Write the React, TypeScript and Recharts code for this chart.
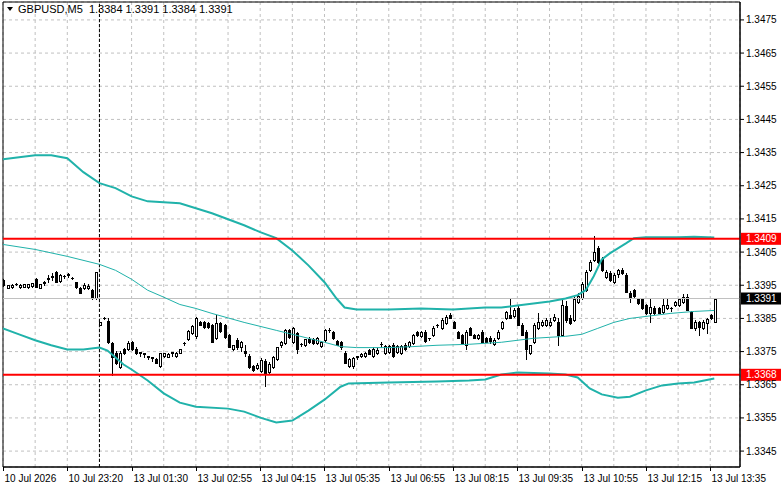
import React from 'react';
import { ComposedChart, Bar, Line, XAxis, YAxis, CartesianGrid, ReferenceLine, ReferenceArea } from 'recharts';

const FONT = '"Liberation Sans", Arial, sans-serif';

// GBPUSD M5 bars, index 0 = first bar of 10 Jul
const opens = [
  1.33965, 1.33941, 1.33944, 1.33953, 1.33944, 1.33944, 1.33944, 1.33947, 1.33968, 1.33941,
  1.33956, 1.33968, 1.33974, 1.33989, 1.33962, 1.33977, 1.33980, 1.33971, 1.33959, 1.33941,
  1.33941, 1.33941, 1.33935, 1.33913, 1.33829, 1.33850, 1.33841, 1.33775, 1.33747, 1.33705,
  1.33759, 1.33759, 1.33778, 1.33759, 1.33747, 1.33744, 1.33735, 1.33732, 1.33729, 1.33708,
  1.33738, 1.33735, 1.33747, 1.33738, 1.33747, 1.33775, 1.33787, 1.33805, 1.33796, 1.33838,
  1.33838, 1.33835, 1.33829, 1.33790, 1.33835, 1.33829, 1.33799, 1.33759, 1.33784, 1.33763,
  1.33753, 1.33738, 1.33708, 1.33699, 1.33690, 1.33723, 1.33687, 1.33702, 1.33729, 1.33769,
  1.33775, 1.33814, 1.33778, 1.33805, 1.33772, 1.33769, 1.33789, 1.33787, 1.33775, 1.33766,
  1.33784, 1.33814, 1.33808, 1.33781, 1.33778, 1.33747, 1.33708, 1.33708, 1.33735, 1.33738,
  1.33738, 1.33756, 1.33738, 1.33747, 1.33772, 1.33747, 1.33750, 1.33769, 1.33750, 1.33747,
  1.33769, 1.33766, 1.33775, 1.33808, 1.33796, 1.33808, 1.33790, 1.33799, 1.33829, 1.33820,
  1.33835, 1.33859, 1.33838, 1.33808, 1.33799, 1.33769, 1.33820, 1.33799, 1.33790, 1.33808,
  1.33790, 1.33790, 1.33772, 1.33790, 1.33820, 1.33850, 1.33859, 1.33856, 1.33880, 1.33829,
  1.33808, 1.33747, 1.33778, 1.33820, 1.33829, 1.33829, 1.33829, 1.33844, 1.33838, 1.33799,
  1.33886, 1.33850, 1.33844, 1.33898, 1.33913, 1.33935, 1.33995, 1.34025, 1.34061, 1.34028,
  1.33974, 1.33986, 1.33959, 1.33983, 1.33995, 1.33980, 1.33926, 1.33935, 1.33910, 1.33910,
  1.33889, 1.33865, 1.33880, 1.33880, 1.33868, 1.33880, 1.33880, 1.33889, 1.33889, 1.33898,
  1.33916, 1.33868, 1.33820, 1.33838, 1.33820, 1.33835, 1.33859, 1.33840,
];
const highs = [
  1.33968, 1.33950, 1.33953, 1.33956, 1.33953, 1.33953, 1.33953, 1.33956, 1.33971, 1.33953,
  1.33962, 1.33980, 1.33986, 1.33992, 1.33983, 1.33980, 1.33986, 1.33974, 1.33960, 1.33944,
  1.33956, 1.33953, 1.33938, 1.33989, 1.33838, 1.33853, 1.33850, 1.33778, 1.33753, 1.33753,
  1.33762, 1.33781, 1.33781, 1.33765, 1.33748, 1.33745, 1.33736, 1.33733, 1.33732, 1.33747,
  1.33747, 1.33747, 1.33748, 1.33750, 1.33759, 1.33778, 1.33814, 1.33829, 1.33853, 1.33841,
  1.33841, 1.33838, 1.33832, 1.33859, 1.33838, 1.33832, 1.33802, 1.33771, 1.33790, 1.33781,
  1.33769, 1.33744, 1.33711, 1.33717, 1.33732, 1.33729, 1.33720, 1.33738, 1.33765, 1.33781,
  1.33817, 1.33817, 1.33823, 1.33808, 1.33775, 1.33789, 1.33793, 1.33790, 1.33793, 1.33781,
  1.33817, 1.33820, 1.33811, 1.33784, 1.33781, 1.33753, 1.33732, 1.33735, 1.33738, 1.33747,
  1.33749, 1.33759, 1.33763, 1.33762, 1.33778, 1.33769, 1.33769, 1.33775, 1.33769, 1.33769,
  1.33775, 1.33781, 1.33802, 1.33811, 1.33811, 1.33814, 1.33791, 1.33826, 1.33832, 1.33850,
  1.33859, 1.33865, 1.33841, 1.33811, 1.33802, 1.33814, 1.33823, 1.33802, 1.33802, 1.33814,
  1.33793, 1.33796, 1.33790, 1.33814, 1.33841, 1.33871, 1.33910, 1.33880, 1.33886, 1.33835,
  1.33814, 1.33771, 1.33835, 1.33865, 1.33844, 1.33850, 1.33850, 1.33862, 1.33850, 1.33910,
  1.33904, 1.33859, 1.33916, 1.33926, 1.33959, 1.33995, 1.34025, 1.34098, 1.34068, 1.34034,
  1.33995, 1.33992, 1.33986, 1.33998, 1.34001, 1.33986, 1.33932, 1.33938, 1.33913, 1.33913,
  1.33892, 1.33913, 1.33886, 1.33883, 1.33913, 1.33913, 1.33883, 1.33904, 1.33913, 1.33923,
  1.33923, 1.33871, 1.33844, 1.33841, 1.33844, 1.33850, 1.33862, 1.33910,
];
const lows = [
  1.33947, 1.33941, 1.33941, 1.33950, 1.33941, 1.33944, 1.33941, 1.33944, 1.33944, 1.33941,
  1.33950, 1.33959, 1.33965, 1.33959, 1.33959, 1.33971, 1.33974, 1.33968, 1.33943, 1.33926,
  1.33938, 1.33938, 1.33910, 1.33910, 1.33829, 1.33847, 1.33775, 1.33678, 1.33714, 1.33699,
  1.33744, 1.33756, 1.33756, 1.33744, 1.33738, 1.33735, 1.33729, 1.33723, 1.33717, 1.33705,
  1.33735, 1.33735, 1.33738, 1.33735, 1.33747, 1.33769, 1.33784, 1.33802, 1.33790, 1.33829,
  1.33820, 1.33820, 1.33778, 1.33787, 1.33808, 1.33790, 1.33763, 1.33756, 1.33759, 1.33753,
  1.33738, 1.33699, 1.33690, 1.33696, 1.33687, 1.33645, 1.33684, 1.33699, 1.33726, 1.33765,
  1.33772, 1.33790, 1.33775, 1.33747, 1.33766, 1.33766, 1.33775, 1.33772, 1.33772, 1.33763,
  1.33781, 1.33808, 1.33787, 1.33769, 1.33759, 1.33717, 1.33705, 1.33699, 1.33729, 1.33735,
  1.33735, 1.33744, 1.33735, 1.33744, 1.33763, 1.33744, 1.33747, 1.33735, 1.33747, 1.33744,
  1.33756, 1.33763, 1.33772, 1.33796, 1.33793, 1.33778, 1.33784, 1.33796, 1.33823, 1.33817,
  1.33832, 1.33850, 1.33820, 1.33790, 1.33775, 1.33759, 1.33799, 1.33790, 1.33787, 1.33778,
  1.33778, 1.33775, 1.33769, 1.33787, 1.33817, 1.33847, 1.33850, 1.33853, 1.33829, 1.33799,
  1.33729, 1.33744, 1.33775, 1.33817, 1.33826, 1.33826, 1.33826, 1.33841, 1.33769, 1.33796,
  1.33838, 1.33832, 1.33841, 1.33895, 1.33910, 1.33932, 1.33992, 1.34022, 1.34016, 1.33992,
  1.33971, 1.33962, 1.33956, 1.33974, 1.33983, 1.33929, 1.33898, 1.33916, 1.33892, 1.33877,
  1.33862, 1.33838, 1.33862, 1.33865, 1.33865, 1.33877, 1.33871, 1.33886, 1.33886, 1.33895,
  1.33874, 1.33820, 1.33814, 1.33799, 1.33817, 1.33805, 1.33847, 1.33840,
];
const closes = [
  1.33950, 1.33950, 1.33950, 1.33954, 1.33951, 1.33953, 1.33953, 1.33956, 1.33944, 1.33953,
  1.33959, 1.33971, 1.33977, 1.33959, 1.33980, 1.33978, 1.33983, 1.33971, 1.33944, 1.33926,
  1.33950, 1.33947, 1.33913, 1.33989, 1.33838, 1.33850, 1.33778, 1.33735, 1.33717, 1.33747,
  1.33747, 1.33775, 1.33759, 1.33747, 1.33748, 1.33745, 1.33736, 1.33733, 1.33717, 1.33747,
  1.33746, 1.33744, 1.33748, 1.33747, 1.33758, 1.33776, 1.33811, 1.33826, 1.33850, 1.33829,
  1.33823, 1.33823, 1.33778, 1.33835, 1.33811, 1.33793, 1.33763, 1.33769, 1.33763, 1.33778,
  1.33747, 1.33702, 1.33693, 1.33711, 1.33726, 1.33681, 1.33714, 1.33735, 1.33763, 1.33778,
  1.33814, 1.33793, 1.33820, 1.33759, 1.33773, 1.33787, 1.33778, 1.33775, 1.33790, 1.33778,
  1.33814, 1.33815, 1.33790, 1.33769, 1.33763, 1.33717, 1.33729, 1.33732, 1.33736, 1.33744,
  1.33745, 1.33744, 1.33759, 1.33756, 1.33773, 1.33766, 1.33766, 1.33738, 1.33766, 1.33766,
  1.33759, 1.33778, 1.33799, 1.33799, 1.33808, 1.33781, 1.33791, 1.33820, 1.33830, 1.33844,
  1.33853, 1.33850, 1.33820, 1.33790, 1.33775, 1.33808, 1.33799, 1.33790, 1.33799, 1.33778,
  1.33778, 1.33781, 1.33784, 1.33808, 1.33838, 1.33868, 1.33850, 1.33874, 1.33829, 1.33799,
  1.33759, 1.33769, 1.33829, 1.33838, 1.33838, 1.33844, 1.33838, 1.33853, 1.33799, 1.33889,
  1.33844, 1.33835, 1.33910, 1.33919, 1.33953, 1.33989, 1.34019, 1.34049, 1.34019, 1.33995,
  1.33989, 1.33965, 1.33980, 1.33995, 1.33986, 1.33929, 1.33913, 1.33919, 1.33895, 1.33880,
  1.33865, 1.33883, 1.33865, 1.33865, 1.33889, 1.33889, 1.33881, 1.33898, 1.33910, 1.33916,
  1.33874, 1.33820, 1.33838, 1.33823, 1.33838, 1.33847, 1.33850, 1.33910,
];

// Bollinger bands at these bar indexes
const upperBars = [0, 4, 8, 12, 16, 20, 24, 28, 32, 36, 40, 44, 48, 52, 56, 60, 64, 68, 72, 76, 80, 83, 85, 88, 96, 104, 112, 120, 124, 128, 136, 140, 143, 145, 147, 149, 151, 153, 155, 157, 160, 168, 172, 177];
const upperVals = [
  1.34330, 1.34336, 1.34342, 1.34342, 1.34333, 1.34291, 1.34258, 1.34243, 1.34218, 1.34203,
  1.34200, 1.34197, 1.34182, 1.34167, 1.34149, 1.34131, 1.34110, 1.34092, 1.34055, 1.34010,
  1.33959, 1.33910, 1.33883, 1.33877, 1.33877, 1.33880, 1.33877, 1.33883, 1.33883, 1.33889,
  1.33901, 1.33910, 1.33920, 1.33935, 1.33977, 1.34028, 1.34046, 1.34061, 1.34076, 1.34092,
  1.34095, 1.34095, 1.34096, 1.34094,
];
const middleBars = [0, 8, 16, 24, 28, 32, 36, 40, 44, 48, 52, 60, 68, 72, 76, 80, 84, 88, 96, 102, 108, 116, 124, 132, 140, 144, 148, 152, 156, 160, 166, 172, 177];
const middleVals = [
  1.34073, 1.34058, 1.34037, 1.34013, 1.33995, 1.33968, 1.33935, 1.33914, 1.33892, 1.33880,
  1.33865, 1.33838, 1.33814, 1.33802, 1.33790, 1.33778, 1.33765, 1.33762, 1.33762, 1.33765,
  1.33769, 1.33772, 1.33778, 1.33790, 1.33796, 1.33802, 1.33820, 1.33838, 1.33850, 1.33856,
  1.33865, 1.33871, 1.33874,
];
const lowerBars = [0, 4, 8, 12, 16, 20, 24, 26, 28, 30, 32, 36, 40, 44, 48, 56, 60, 64, 68, 72, 76, 80, 84, 86, 96, 108, 116, 120, 124, 128, 136, 140, 143, 146, 149, 153, 156, 160, 164, 168, 172, 177];
const lowerVals = [
  1.33820, 1.33802, 1.33784, 1.33769, 1.33756, 1.33756, 1.33762, 1.33753, 1.33732, 1.33711,
  1.33696, 1.33663, 1.33624, 1.33596, 1.33584, 1.33578, 1.33569, 1.33551, 1.33536, 1.33542,
  1.33572, 1.33605, 1.33644, 1.33654, 1.33657, 1.33660, 1.33663, 1.33666, 1.33681, 1.33687,
  1.33684, 1.33681, 1.33672, 1.33639, 1.33621, 1.33611, 1.33614, 1.33633, 1.33648, 1.33654,
  1.33657, 1.33669,
];

const priceTicks = [1.3345, 1.3355, 1.3365, 1.3375, 1.3385, 1.3395, 1.3405, 1.3415, 1.3425, 1.3435, 1.3445, 1.3455, 1.3465, 1.3475];
const gridBars = [0, 8, 16, 24, 32, 40, 48, 56, 64, 72, 80, 88, 96, 104, 112, 120, 128, 136, 144, 152, 160, 168, 176];
const labelBars = [0, 16, 32, 48, 64, 80, 96, 112, 128, 144, 160, 176];
const timeLabels = ['10 Jul 2026', '10 Jul 23:20', '13 Jul 01:30', '13 Jul 02:55', '13 Jul 04:15', '13 Jul 05:35', '13 Jul 06:55', '13 Jul 08:15', '13 Jul 09:35', '13 Jul 10:55', '13 Jul 12:15', '13 Jul 13:35'];

const resistance = 1.3409;
const support = 1.3368;
const bid = 1.3391;
const separatorBar = 24;

const X_MAX = 183.4;
const Y_MIN = 1.33402;
const Y_MAX = 1.34804;

const upperMap = new Map(upperBars.map((b, k) => [b, upperVals[k]]));
const middleMap = new Map(middleBars.map((b, k) => [b, middleVals[k]]));
const lowerMap = new Map(lowerBars.map((b, k) => [b, lowerVals[k]]));

const data = opens.map((o, i) => ({
  i,
  open: o,
  high: highs[i],
  low: lows[i],
  close: closes[i],
  range: [lows[i], highs[i]],
  upper: upperMap.get(i) ?? null,
  middle: middleMap.get(i) ?? null,
  lower: lowerMap.get(i) ?? null,
}));

const last = data[data.length - 1];
const title = `GBPUSD,M5  ${last.open.toFixed(4)} ${last.high.toFixed(4)} ${last.low.toFixed(4)} ${last.close.toFixed(4)}`;

const Candle = (props: any) => {
  const { x, y, width, height, payload } = props;
  if (!payload || x == null || y == null) return <g />;
  const cx = Math.round(x + width / 2) + 0.5;
  const top = Math.min(y, y + height);
  const h = Math.abs(height);
  const { open, close, high, low } = payload;
  const k = high > low ? h / (high - low) : 0;
  const py = (v: number) => top + (high - v) * k;
  const b0 = Math.round(Math.min(py(open), py(close)));
  const b1 = Math.round(Math.max(py(open), py(close)));
  const wick = <line x1={cx} x2={cx} y1={Math.round(top)} y2={Math.round(top + h) + 1} stroke="#000" strokeWidth={1} />;
  let body;
  if (close === open || b1 === b0) {
    body = <line x1={cx - 1.5} x2={cx + 1.5} y1={b0 + 0.5} y2={b0 + 0.5} stroke="#000" strokeWidth={1} />;
  } else if (close > open) {
    body = <rect x={cx - 1} y={b0 + 0.5} width={2} height={b1 - b0} fill="#fff" stroke="#000" strokeWidth={1} />;
  } else {
    body = <rect x={cx - 1.5} y={b0} width={3} height={b1 - b0 + 1} fill="#000" />;
  }
  return (
    <g>
      {wick}
      {body}
    </g>
  );
};

const TimeTick = ({ x, y, payload }: any) => {
  const k = labelBars.indexOf(payload.value);
  if (k < 0) return <g />;
  const px = Math.round(x) + 0.5;
  return (
    <g>
      <line x1={px} x2={px} y1={y} y2={y + 4} stroke="#000" />
      <text x={px + 1} y={y + 15} fontSize={10} fontFamily={FONT} fill="#000">
        {timeLabels[k]}
      </text>
    </g>
  );
};

const priceTag = (value: number, bg: string) => (props: any) => {
  const vb = props.viewBox;
  if (!vb) return null;
  const right = vb.x + vb.width;
  return (
    <g>
      <rect x={right + 1} y={vb.y - 6} width={45} height={12} fill={bg} />
      <text x={right + 6} y={vb.y + 3.5} fontSize={10} fontFamily={FONT} fill="#fff">
        {value.toFixed(4)}
      </text>
    </g>
  );
};

const App: React.FC = () => {
  return (
    <div style={{ position: 'absolute', left: 0, top: 0, width: 781, height: 489, background: '#fff' }}>
      <ComposedChart width={781} height={489} data={data} margin={{ top: 2, right: 0, bottom: 0, left: 3 }}>
        <CartesianGrid stroke="#c0c0c0" strokeDasharray="3 3" />
        <XAxis
          dataKey="i"
          type="number"
          domain={[0, X_MAX]}
          allowDataOverflow
          ticks={gridBars}
          interval={0}
          height={22}
          tickSize={0}
          tickMargin={0}
          tickLine={false}
          axisLine={{ stroke: '#000' }}
          tick={<TimeTick />}
        />
        <YAxis
          orientation="right"
          type="number"
          domain={[Y_MIN, Y_MAX]}
          allowDataOverflow
          ticks={priceTicks}
          interval={0}
          width={41}
          tickSize={4}
          tickMargin={2}
          tickLine={{ stroke: '#000' }}
          axisLine={{ stroke: '#000' }}
          tick={{ fill: '#000', fontSize: 10, fontFamily: FONT }}
          tickFormatter={(v: number) => v.toFixed(4)}
        />
        <ReferenceArea x1={0} x2={X_MAX} y1={Y_MIN} y2={Y_MAX} fill="none" stroke="#000" ifOverflow="visible" />
        <ReferenceLine x={separatorBar} stroke="#000" strokeDasharray="3 2" />
        <ReferenceLine y={bid} stroke="#c0c0c0" label={priceTag(bid, '#000')} />
        <Bar dataKey="range" barSize={3} shape={<Candle />} isAnimationActive={false} />
        <Line dataKey="middle" stroke="#20b2aa" strokeWidth={1} dot={false} activeDot={false} connectNulls isAnimationActive={false} />
        <Line dataKey="upper" stroke="#20b2aa" strokeWidth={2} dot={false} activeDot={false} connectNulls isAnimationActive={false} />
        <Line dataKey="lower" stroke="#20b2aa" strokeWidth={2} dot={false} activeDot={false} connectNulls isAnimationActive={false} />
        <ReferenceLine y={resistance} stroke="#ff0000" strokeWidth={2} label={priceTag(resistance, '#ff0000')} />
        <ReferenceLine y={support} stroke="#ff0000" strokeWidth={2} label={priceTag(support, '#ff0000')} />
      </ComposedChart>
      <div
        style={{
          position: 'absolute',
          left: 7,
          top: 3,
          display: 'flex',
          alignItems: 'center',
          fontFamily: FONT,
          fontSize: 11,
          whiteSpace: 'pre',
          color: '#000',
        }}
      >
        <svg width={6} height={4} style={{ marginRight: 5 }}>
          <polygon points="0,0 6,0 3,4" fill="#000" />
        </svg>
        {title}
      </div>
    </div>
  );
};

export default App;
